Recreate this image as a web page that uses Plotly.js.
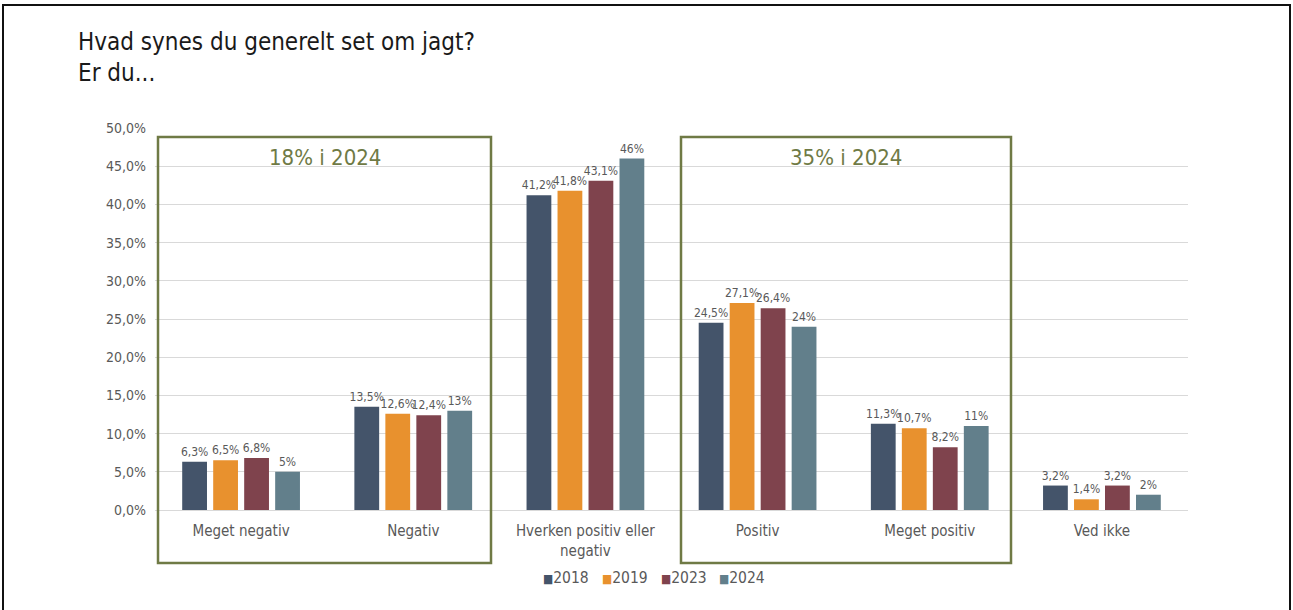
<!DOCTYPE html>
<html>
<head>
<meta charset="utf-8">
<script src="https://cdn.plot.ly/plotly-3.0.1.min.js"></script>
<style>
  html, body { margin: 0; padding: 0; background: #ffffff; }
  #chart { width: 1293px; height: 610px; }
</style>
</head>
<body>
<div id="chart"></div>
<script>
const categories = ["Meget negativ", "Negativ", "Hverken positiv eller<br>negativ", "Positiv", "Meget positiv", "Ved ikke"];
const years = ["2018", "2019", "2023", "2024"];
const values2018 = [6.3, 13.5, 41.2, 24.5, 11.3, 3.2];
const values2019 = [6.5, 12.6, 41.8, 27.1, 10.7, 1.4];
const values2023 = [6.8, 12.4, 43.1, 26.4, 8.2, 3.2];
const values2024 = [5, 13, 46, 24, 11, 2];
const seriesColors = ["#44546a", "#e8912e", "#7f434d", "#627f8b"];
const labelFormats = ["%{y:.1f}%", "%{y:.1f}%", "%{y:.1f}%", "%{y:.0f}%"];
const boxTitles = ["18% i 2024", "35% i 2024"];

const FONT = "DejaVu Sans Condensed, sans-serif";
const GREY = "#595959";
const OLIVE = "#6f7a45";

// plot area in pixels: x 155..1188, y 128..510
const PL = 155, PW = 1033, PB = 510, PH = 382;
const px = v => (v - PL) / PW;
const py = v => (PB - v) / PH;

const allValues = [values2018, values2019, values2023, values2024];
const traces = years.map((yr, i) => ({
  type: "bar",
  name: yr,
  x: categories,
  y: allValues[i],
  marker: { color: seriesColors[i] },
  texttemplate: labelFormats[i],
  textposition: "outside",
  textfont: { family: FONT, size: 12, color: GREY },
  cliponaxis: false,
  hoverinfo: "skip"
}));

// legend drawn as a row of annotations (coloured square + year)
const legendAnnotations = years.map((yr, i) => ({
  text: '<span style="color:' + seriesColors[i] + ';font-size:12px">■</span>' + yr,
  xref: "paper", yref: "paper",
  x: px(541 + i * 58.8), y: py(578),
  xanchor: "left", yanchor: "middle", showarrow: false,
  font: { family: FONT, size: 15.5, color: GREY }
}));

const layout = {
  width: 1293,
  height: 610,
  margin: { l: PL, r: 1293 - PL - PW, t: PB - PH, b: 610 - PB },
  paper_bgcolor: "#ffffff",
  plot_bgcolor: "#ffffff",
  separators: ",.",
  font: { family: FONT, color: GREY },
  uniformtext: { minsize: 12, mode: "show" },
  title: {
    text: "Hvad synes du generelt set om jagt?<br>Er du...",
    font: { family: FONT, size: 24, color: "#1a1a1a" },
    xref: "container", x: 78 / 1293, xanchor: "left",
    yref: "container", y: 1 - 50 / 610, yanchor: "top"
  },
  barmode: "group",
  bargap: 0.28,
  bargroupgap: 0.2,
  xaxis: {
    tickfont: { family: FONT, size: 15, color: GREY },
    showgrid: false, zeroline: false, showline: false, ticks: "",
    ticklabelstandoff: 10
  },
  yaxis: {
    range: [0, 50], dtick: 5, tickformat: ".1f", ticksuffix: "%",
    tickfont: { family: FONT, size: 14, color: GREY },
    gridcolor: "#d9d9d9", gridwidth: 1,
    zeroline: true, zerolinecolor: "#d9d9d9", zerolinewidth: 1,
    showline: false, ticks: "", automargin: false,
    ticklabelstandoff: 8
  },
  showlegend: false,
  shapes: [
    { type: "rect", xref: "paper", yref: "paper", x0: px(158), x1: px(491), y0: py(563), y1: py(137),
      line: { color: OLIVE, width: 2.5 }, fillcolor: "rgba(0,0,0,0)", layer: "above" },
    { type: "rect", xref: "paper", yref: "paper", x0: px(681), x1: px(1011), y0: py(563), y1: py(137),
      line: { color: OLIVE, width: 2.5 }, fillcolor: "rgba(0,0,0,0)", layer: "above" },
    { type: "rect", xref: "paper", yref: "paper", x0: px(3), x1: px(1290), y0: py(630), y1: py(5),
      line: { color: "#111111", width: 2 }, fillcolor: "rgba(0,0,0,0)", layer: "above" }
  ],
  annotations: [
    { text: boxTitles[0], xref: "paper", yref: "paper", x: px(325), y: py(157), showarrow: false,
      font: { family: FONT, size: 22, color: OLIVE }, xanchor: "center", yanchor: "middle" },
    { text: boxTitles[1], xref: "paper", yref: "paper", x: px(846), y: py(157), showarrow: false,
      font: { family: FONT, size: 22, color: OLIVE }, xanchor: "center", yanchor: "middle" }
  ].concat(legendAnnotations)
};

Plotly.newPlot("chart", traces, layout, { displayModeBar: false, staticPlot: true });
</script>
</body>
</html>
